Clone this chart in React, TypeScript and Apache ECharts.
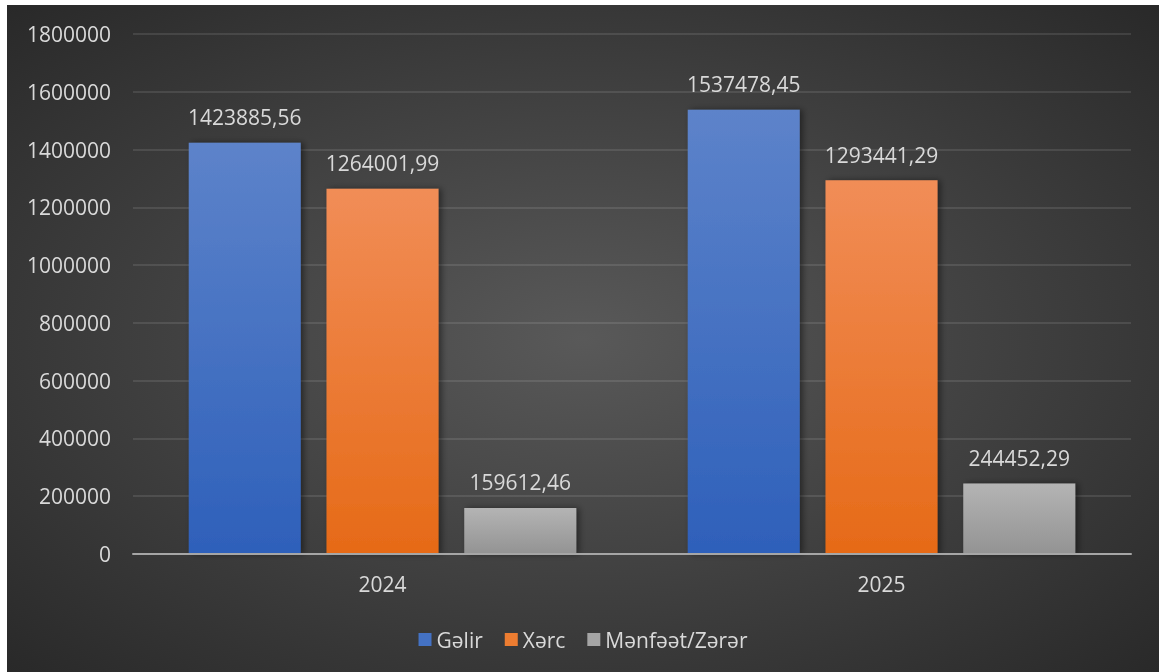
import React, { useEffect, useRef } from "react";
import * as echarts from "echarts";

const categories = ["2024", "2025"];
const seriesNames = ["Gəlir", "Xərc", "Mənfəət/Zərər"];
const gelir = [1423885.56, 1537478.45];
const xerc = [1264001.99, 1293441.29];
const menfeet = [159612.46, 244452.29];
const yTicks = { min: 0, max: 1800000, interval: 200000 };

const FONT = "'Open Sans', 'Noto Sans', sans-serif";
const TEXT = "#D9D9D9";

function grad(top: string, bottom: string) {
  return new echarts.graphic.LinearGradient(0, 0, 0, 1, [
    { offset: 0, color: top },
    { offset: 1, color: bottom },
  ]);
}

export default function App() {
  const ref = useRef<HTMLDivElement>(null);
  useEffect(() => {
    if (!ref.current) return;
    const chart = echarts.init(ref.current, null, { renderer: "svg" });
    const fmt = (p: any) => Number(p.value).toFixed(2).replace(".", ",");
    const colors = [
      grad("#5D83CA", "#2E60BA"),
      grad("#F18D57", "#E66A17"),
      grad("#B4B4B4", "#939393"),
    ];
    const legendColors = ["#4472C4", "#ED7D31", "#A5A5A5"];
    const datas = [gelir, xerc, menfeet];
    chart.setOption({
      animation: false,
      backgroundColor: new echarts.graphic.RadialGradient(0.5, 0.5, 0.75, [
        { offset: 0, color: "#595959" },
        { offset: 1, color: "#262626" },
      ]),
      textStyle: { fontFamily: FONT },
      grid: { left: 126, right: 28, top: 29, bottom: 118 },
      legend: {
        bottom: 17,
        left: "center",
        itemWidth: 13,
        itemHeight: 13,
        itemGap: 22,
        icon: "rect",
        textStyle: { color: TEXT, fontSize: 21, fontFamily: FONT },
        data: seriesNames.map((n, i) => ({ name: n, itemStyle: { color: legendColors[i] } })),
      },
      xAxis: {
        type: "category",
        data: categories,
        axisLine: { lineStyle: { color: "#A6A6A6", width: 2 } },
        axisTick: { show: false },
        axisLabel: { color: TEXT, fontSize: 21, margin: 19, fontFamily: FONT },
        z: 5,
      },
      yAxis: {
        type: "value",
        min: yTicks.min,
        max: yTicks.max,
        interval: yTicks.interval,
        axisLine: { show: false },
        axisTick: { show: false },
        axisLabel: {
          color: TEXT,
          fontSize: 21,
          margin: 22,
          fontFamily: FONT,
          formatter: (v: number) => String(v),
        },
        splitLine: { lineStyle: { color: "rgba(255,255,255,0.1)", width: 2 } },
      },
      series: seriesNames.map((name, i) => ({
        name,
        type: "bar",
        data: datas[i],
        barWidth: 112,
        barGap: "23%",
        itemStyle: {
          color: colors[i],
          shadowColor: "rgba(0,0,0,0.45)",
          shadowBlur: 6,
          shadowOffsetX: 3,
          shadowOffsetY: 0,
        },
        label: {
          show: true,
          position: "top",
          distance: 15,
          color: TEXT,
          fontSize: 21,
          fontFamily: FONT,
          formatter: fmt,
        },
      })),
    });
    return () => chart.dispose();
  }, []);
  return (
    <div
      ref={ref}
      style={{ position: "fixed", left: 7, top: 5, width: 1152, height: 667 }}
    />
  );
}
